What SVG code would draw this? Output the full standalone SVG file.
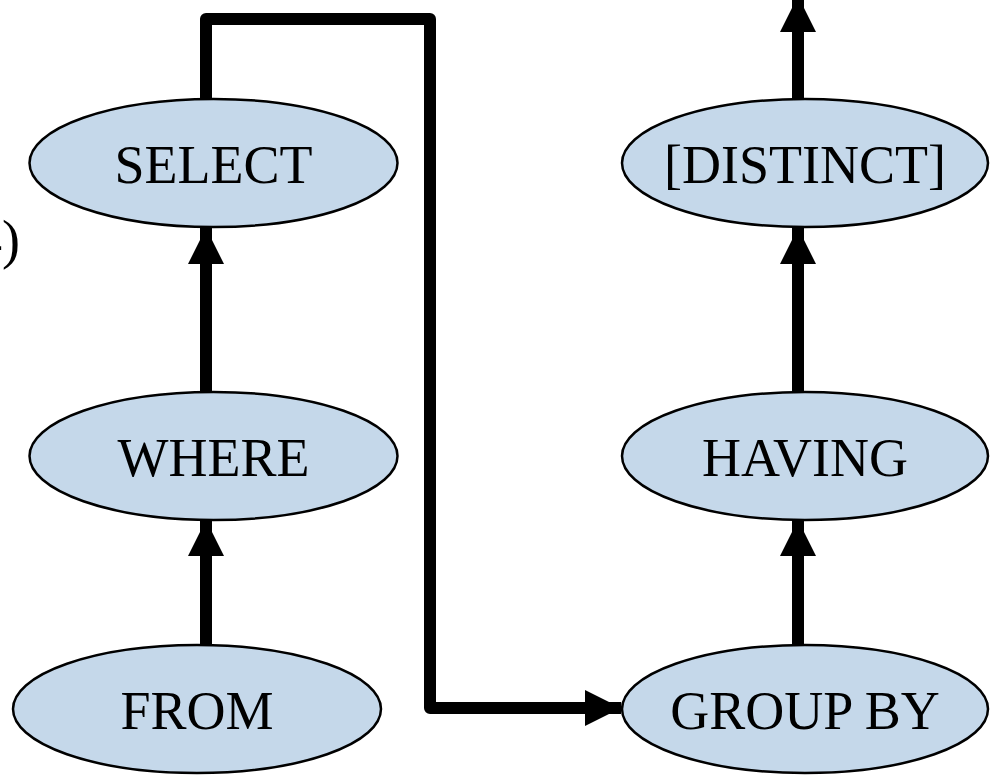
<svg xmlns="http://www.w3.org/2000/svg" width="1000" height="779" viewBox="0 0 1000 779">
<defs>
<marker id="ah" markerUnits="userSpaceOnUse" markerWidth="36" markerHeight="36" viewBox="0 0 36 36" refX="36" refY="18" orient="auto">
<path d="M0,0 L36,18 L0,36 Z" fill="#000"/>
</marker>
<style>
.n ellipse{fill:#c5d8ea;stroke:#000;stroke-width:2.5}
.n text{font-family:"Liberation Serif","DejaVu Serif",serif;font-size:54px;fill:#000;text-anchor:middle}
.c path{fill:none;stroke:#000;stroke-width:12;stroke-linejoin:round;marker-end:url(#ah)}
</style>
</defs>
<rect width="1000" height="779" fill="#fff"/>
<text x="20" y="258" font-family="Liberation Serif, DejaVu Serif, serif" font-size="54" text-anchor="end">4)</text>
<g class="c">
<path d="M206,645 L206,520"/>
<path d="M206,392 L206,228"/>
<path d="M206,99 L206,19 L430,19 L430,708 L621,708"/>
<path d="M798,645 L798,520"/>
<path d="M798,392 L798,228"/>
<path d="M798,99 L798,-4"/>
</g>
<g id="select" class="n"><ellipse cx="213.5" cy="163" rx="184" ry="64"/><text x="213.5" y="183">SELECT</text></g>
<g id="where" class="n"><ellipse cx="213.5" cy="456" rx="184" ry="64"/><text x="213.5" y="476">WHERE</text></g>
<g id="from" class="n"><ellipse cx="197" cy="709" rx="184" ry="64"/><text x="197" y="729">FROM</text></g>
<g id="distinct" class="n"><ellipse cx="805" cy="163" rx="183" ry="64"/><text x="805" y="183">[DISTINCT]</text></g>
<g id="having" class="n"><ellipse cx="805" cy="456" rx="183" ry="64"/><text x="805" y="476">HAVING</text></g>
<g id="groupby" class="n"><ellipse cx="805" cy="709" rx="183" ry="64"/><text x="805" y="729">GROUP BY</text></g>
</svg>
